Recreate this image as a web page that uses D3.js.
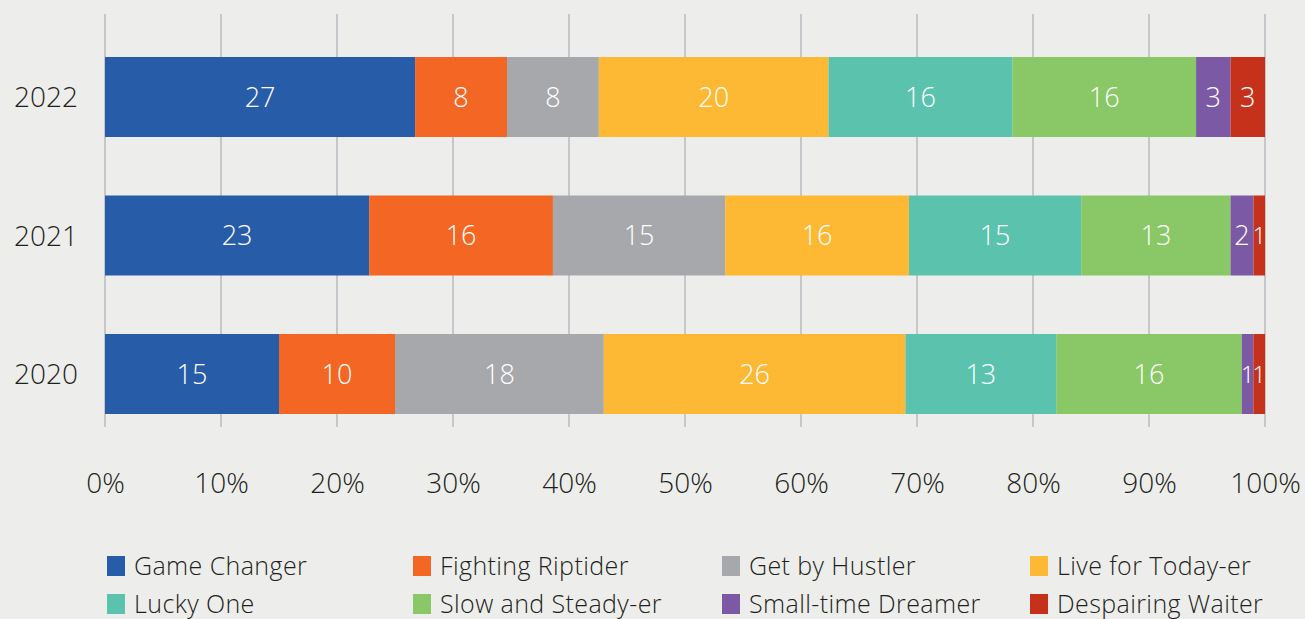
<!DOCTYPE html>
<html><head><meta charset="utf-8">
<script src="https://cdn.jsdelivr.net/npm/d3@7"></script>
<style>
html,body{margin:0;padding:0;background:#edeeeb;}
svg{display:block;}
text{font-family:"Open Sans", Lato, sans-serif;}
</style></head>
<body><svg id="chart" width="1305" height="619"></svg>
<script>
const years = ["2022","2021","2020"];
const seriesNames = ["Game Changer","Fighting Riptider","Get by Hustler","Live for Today-er","Lucky One","Slow and Steady-er","Small-time Dreamer","Despairing Waiter"];
const colors = ["#275ca8","#f36623","#a7a8ab","#fdb934","#5bc3ad","#89c767","#7b59a5","#c6311c"];
const gameChanger = [27,23,15];
const fightingRiptider = [8,16,10];
const getByHustler = [8,15,18];
const liveForToday = [20,16,26];
const luckyOne = [16,15,13];
const slowAndSteady = [16,13,16];
const smallTimeDreamer = [3,2,1];
const despairingWaiter = [3,1,1];
const ticks = [0,0.1,0.2,0.3,0.4,0.5,0.6,0.7,0.8,0.9,1.0];

const seriesVals = [gameChanger,fightingRiptider,getByHustler,liveForToday,luckyOne,slowAndSteady,smallTimeDreamer,despairingWaiter];
const rows = years.map((y,i)=>{const o={year:y}; seriesNames.forEach((s,j)=>o[s]=seriesVals[j][i]); return o;});

const svg = d3.select("#chart");
const x = d3.scaleLinear().domain([0,1]).range([105,1265]);
const y = d3.scaleBand().domain(years).range([57,414]).paddingInner(0.4224).paddingOuter(0);

const stack = d3.stack().keys(seriesNames).offset(d3.stackOffsetExpand);
const stacked = stack(rows);

// gridlines
svg.append("g").selectAll("line").data(ticks).join("line")
  .attr("x1",d=>x(d)).attr("x2",d=>x(d)).attr("y1",14).attr("y2",427)
  .attr("stroke","#c5c7c9").attr("stroke-width",2);

const g = svg.append("g");
stacked.forEach((s,j)=>{
  const gg = g.append("g").attr("fill",colors[j]);
  gg.selectAll("rect").data(s).join("rect")
    .attr("x",d=>x(d[0])).attr("width",d=>x(d[1])-x(d[0]))
    .attr("y",d=>y(d.data.year)).attr("height",y.bandwidth());
});
stacked.forEach((s,j)=>{
  g.append("g").selectAll("text").data(s).join("text")
    .attr("x",d=>(x(d[0])+x(d[1]))/2).attr("y",d=>y(d.data.year)+y.bandwidth()/2)
    .attr("dy","0.36em").attr("text-anchor","middle").attr("fill","#fff")
    .attr("font-size",d=>(x(d[1])-x(d[0]))<20?24:27).attr("font-weight",300)
    .text(d=>d.data[s.key]);
});

// y labels
svg.append("g").selectAll("text").data(years).join("text")
  .attr("x",78).attr("y",d=>y(d)+y.bandwidth()/2).attr("dy","0.36em")
  .attr("text-anchor","end").attr("font-size",28).attr("fill","#231f20").attr("font-weight",300)
  .text(d=>d);

// x axis labels
const xAxis = d3.axisBottom(x).tickValues(ticks).tickFormat(d3.format(".0%")).tickSize(0).tickPadding(0);
const ax = svg.append("g").attr("transform","translate(0,473)").call(xAxis);
ax.select(".domain").remove();
ax.selectAll("text").attr("font-size",28).attr("fill","#231f20").attr("font-weight",300)
  .attr("font-family","'Open Sans', Lato, sans-serif");

// legend
const colX = [107,413,722,1030];
const rowY = [566,604];
const leg = svg.append("g");
seriesNames.forEach((s,i)=>{
  const cx = colX[i%4], cy = rowY[Math.floor(i/4)];
  leg.append("rect").attr("x",cx).attr("y",cy-10).attr("width",18).attr("height",20).attr("fill",colors[i]);
  leg.append("text").attr("x",cx+27).attr("y",cy).attr("dy","0.35em")
    .attr("font-size",25).attr("letter-spacing","0.4px").attr("fill","#231f20").attr("font-weight",300).text(s);
});
</script></body></html>
